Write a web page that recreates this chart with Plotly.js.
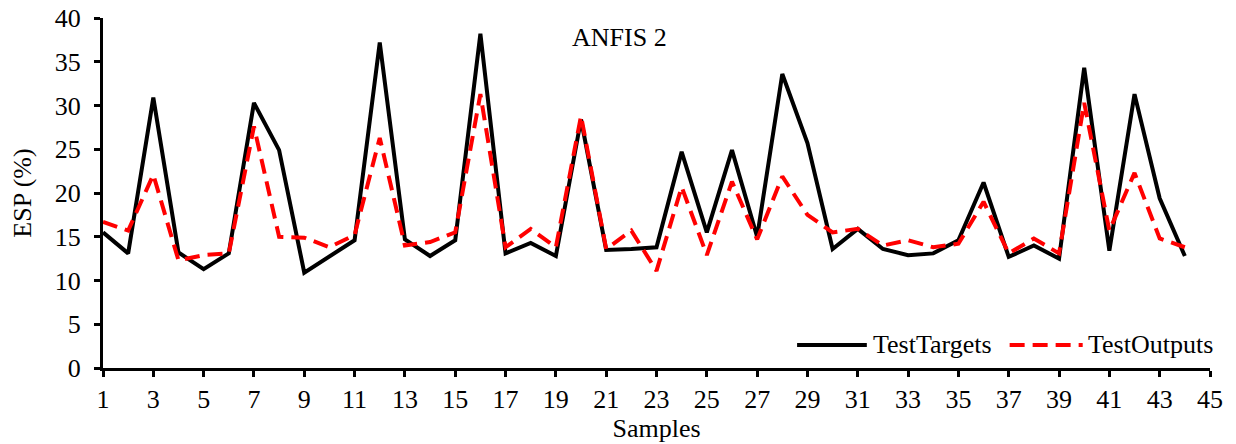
<!DOCTYPE html>
<html>
<head>
<meta charset="utf-8">
<script src="https://cdn.plot.ly/plotly-3.0.1.min.js"></script>
<style>html,body{margin:0;padding:0;background:#fff;}#chart{width:1236px;height:444px;}</style>
</head>
<body>
<div id="chart"></div>
<script>
const samples = [1,2,3,4,5,6,7,8,9,10,11,12,13,14,15,16,17,18,19,20,21,22,23,24,25,26,27,28,29,30,31,32,33,34,35,36,37,38,39,40,41,42,43,44];
const testTargets = [15.5,13.1,30.9,13.2,11.3,13.1,30.3,24.9,10.9,12.8,14.6,37.2,14.7,12.8,14.6,38.2,13.1,14.3,12.8,28.4,13.5,13.6,13.8,24.7,15.5,24.9,15.0,33.6,25.7,13.6,15.9,13.6,12.9,13.1,14.6,21.2,12.7,14.0,12.5,34.3,13.4,31.3,19.4,12.8];
const testOutputs = [16.7,15.7,22.1,12.3,12.9,13.1,27.6,15.0,14.9,13.8,15.2,26.3,14.0,14.4,15.5,31.3,13.8,15.9,13.8,28.8,13.6,15.7,11.1,20.7,12.9,21.3,14.7,21.9,17.5,15.5,15.9,14.0,14.6,13.8,14.2,19.0,13.1,14.8,13.1,30.3,15.7,22.3,14.8,13.8];
const xTicks = [1,3,5,7,9,11,13,15,17,19,21,23,25,27,29,31,33,35,37,39,41,43,45];
const yTicks = [0,5,10,15,20,25,30,35,40];
const seriesNames = ["TestTargets", "TestOutputs"];
const chartTitle = "ANFIS 2";

const FAM = "Liberation Serif, Times New Roman, serif";
const FS = 26;
const blackLine = {color: "#000", width: 4};
const redLine = {color: "#ff0000", width: 4, dash: "15px,8px"};

const data = [
  {x: samples, y: testTargets, type: "scatter", mode: "lines", name: seriesNames[0], line: blackLine},
  {x: samples, y: testOutputs, type: "scatter", mode: "lines", name: seriesNames[1], line: redLine}
];

// custom legend (longer line samples than Plotly's built-in legend)
const legY = 0.066;
const shapes = [
  {type: "line", xref: "paper", yref: "paper", x0: 0.627, x1: 0.690, y0: legY, y1: legY, line: blackLine},
  {type: "line", xref: "paper", yref: "paper", x0: 0.819, x1: 0.885, y0: legY, y1: legY, line: redLine}
];
const annotations = [
  {text: chartTitle, xref: "paper", yref: "paper", x: 0.467, y: 0.943,
   xanchor: "center", yanchor: "middle", showarrow: false,
   font: {family: FAM, size: FS, color: "#000"}},
  {text: seriesNames[0], xref: "paper", yref: "paper", x: 0.694, y: legY,
   xanchor: "left", yanchor: "middle", showarrow: false,
   font: {family: FAM, size: FS, color: "#000"}},
  {text: seriesNames[1], xref: "paper", yref: "paper", x: 0.888, y: legY,
   xanchor: "left", yanchor: "middle", showarrow: false,
   font: {family: FAM, size: FS, color: "#000"}}
];

const layout = {
  width: 1236, height: 444,
  margin: {l: 103, r: 26, t: 18, b: 76},
  paper_bgcolor: "#fff", plot_bgcolor: "#fff",
  font: {family: FAM, size: FS, color: "#000"},
  showlegend: false,
  xaxis: {range: [1, 45], tickvals: xTicks, ticktext: xTicks.map(String),
          showgrid: false, zeroline: false, showline: true, linecolor: "#000", linewidth: 3,
          ticks: "outside", ticklen: 6, tickwidth: 3, tickcolor: "#000",
          tickfont: {family: FAM, size: FS, color: "#000"},
          title: {text: "Samples", font: {family: FAM, size: FS, color: "#000"}, standoff: 2}},
  yaxis: {range: [0, 40], tickvals: yTicks, ticktext: yTicks.map(String),
          showgrid: false, zeroline: false, showline: true, linecolor: "#000", linewidth: 3,
          ticks: "outside", ticklen: 6, tickwidth: 3, tickcolor: "#000",
          ticklabelstandoff: 8,
          tickfont: {family: FAM, size: FS, color: "#000"},
          title: {text: "ESP (%)", font: {family: FAM, size: FS, color: "#000"}, standoff: 16}},
  shapes: shapes,
  annotations: annotations
};
Plotly.newPlot("chart", data, layout, {displayModeBar: false, staticPlot: true});
</script>
</body>
</html>
